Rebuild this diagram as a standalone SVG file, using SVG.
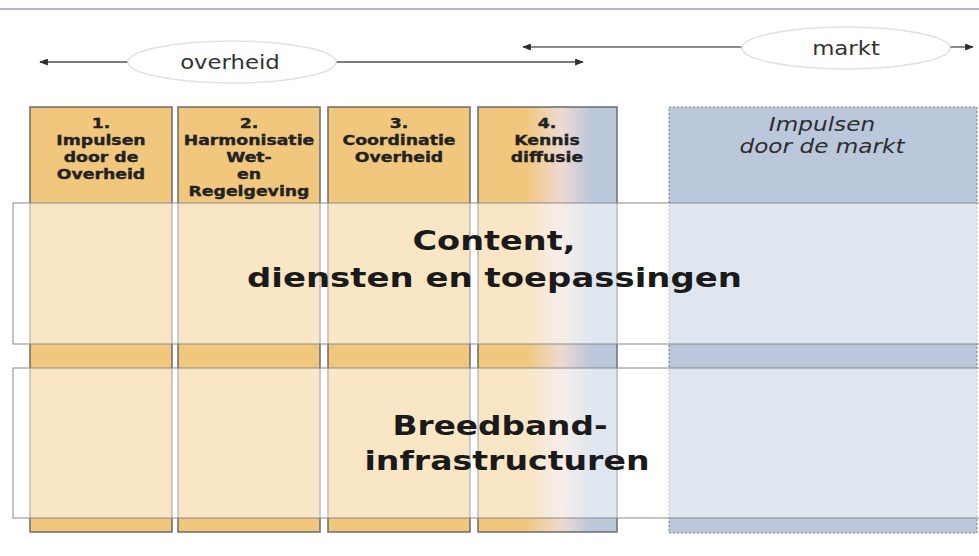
<svg xmlns="http://www.w3.org/2000/svg" width="979" height="556" viewBox="0 0 979 556">
<style>
.col{stroke:#6b6b6b;stroke-width:1.5}
.orange{fill:#F1C77D}
.band{fill:#ffffff;fill-opacity:0.55;stroke:#8a8a8a;stroke-width:1}
.hdr{font-family:"DejaVu Sans",Verdana,sans-serif;font-weight:bold;font-size:13.5px;fill:#222;stroke:#222;stroke-width:0.35;text-anchor:middle}
.lbl{font-family:"DejaVu Sans",Verdana,sans-serif;font-size:20px;fill:#333;text-anchor:middle}
.mkt{font-family:"DejaVu Sans",Verdana,sans-serif;font-style:italic;font-size:19px;fill:#2e2e2e;text-anchor:middle}
.big{font-family:"DejaVu Sans",Verdana,sans-serif;font-weight:bold;font-size:27px;fill:#1a1a1a;text-anchor:middle}
.ell{fill:#ffffff;stroke:#e2e2e2;stroke-width:1.5}
</style>
<defs>
<linearGradient id="g4" x1="0" y1="0" x2="1" y2="0">
<stop offset="0" stop-color="#F1C77D"/>
<stop offset="0.35" stop-color="#F1C77D"/>
<stop offset="0.6" stop-color="#EED9D3"/>
<stop offset="0.82" stop-color="#BBC7DB"/>
<stop offset="1" stop-color="#BBC7DB"/>
</linearGradient>
<marker id="ah" viewBox="0 0 10 8" refX="9" refY="4" markerWidth="9" markerHeight="7" markerUnits="userSpaceOnUse" orient="auto-start-reverse">
<path d="M0,0 L10,4 L0,8 Z" fill="#2e2e2e"/>
</marker>
</defs>
<rect x="0" y="0" width="979" height="556" fill="#ffffff"/>
<line x1="0" y1="9" x2="979" y2="9" stroke="#8FA0BC" stroke-width="1.5"/>

<g id="connectors">
<line x1="40" y1="62" x2="583" y2="62" stroke="#505050" stroke-width="1.3" marker-start="url(#ah)" marker-end="url(#ah)"/>
<line x1="523" y1="47" x2="973" y2="47" stroke="#8c8c8c" stroke-width="2" marker-start="url(#ah)" marker-end="url(#ah)"/>
</g>

<g id="overheid">
<ellipse class="ell" cx="232" cy="62" rx="104" ry="21"/>
<g transform="translate(230,0) scale(1.14,1)"><text class="lbl" x="0" y="69">overheid</text></g>
</g>
<g id="markt">
<ellipse class="ell" cx="846" cy="48" rx="104" ry="21"/>
<g transform="translate(846,0) scale(1.14,1)"><text class="lbl" x="0" y="55">markt</text></g>
</g>

<g id="col1">
<rect class="col orange" x="30" y="107" width="142" height="425"/>
</g>
<g id="col2">
<rect class="col orange" x="178" y="107" width="142" height="425"/>
</g>
<g id="col3">
<rect class="col orange" x="328" y="107" width="142" height="425"/>
</g>
<g id="col4">
<rect class="col" x="478" y="107" width="139" height="425" fill="url(#g4)"/>
</g>
<g id="market">
<rect x="669" y="107" width="308" height="426" fill="#BBC7DB" stroke="#7a7a7a" stroke-width="1" stroke-dasharray="2 2"/>
</g>

<g id="band-content">
<rect class="band" x="13" y="203" width="990" height="141"/>
</g>
<g id="band-infra">
<rect class="band" x="13" y="368" width="990" height="150"/>
</g>

<g id="col1-label" transform="translate(101,0) scale(1.28,1)">
<text class="hdr" x="0" y="128">1.</text>
<text class="hdr" x="0" y="145">Impulsen</text>
<text class="hdr" x="0" y="162">door de</text>
<text class="hdr" x="0" y="179">Overheid</text>
</g>
<g id="col2-label" transform="translate(249,0) scale(1.28,1)">
<text class="hdr" x="0" y="128">2.</text>
<text class="hdr" x="0" y="145">Harmonisatie</text>
<text class="hdr" x="0" y="162">Wet-</text>
<text class="hdr" x="0" y="179">en</text>
<text class="hdr" x="0" y="196">Regelgeving</text>
</g>
<g id="col3-label" transform="translate(399,0) scale(1.28,1)">
<text class="hdr" x="0" y="128">3.</text>
<text class="hdr" x="0" y="145">Coordinatie</text>
<text class="hdr" x="0" y="162">Overheid</text>
</g>
<g id="col4-label" transform="translate(547,0) scale(1.28,1)">
<text class="hdr" x="0" y="128">4.</text>
<text class="hdr" x="0" y="145">Kennis</text>
<text class="hdr" x="0" y="162">diffusie</text>
</g>
<g id="market-label" transform="translate(822,0) scale(1.22,1)">
<text class="mkt" x="0" y="131">Impulsen</text>
<text class="mkt" x="0" y="153">door de markt</text>
</g>

<g id="content-label">
<text class="big" x="494" y="250" textLength="163" lengthAdjust="spacingAndGlyphs">Content,</text>
<text class="big" x="494.5" y="287" textLength="495" lengthAdjust="spacingAndGlyphs">diensten en toepassingen</text>
</g>
<g id="infra-label">
<text class="big" x="500" y="435" textLength="215" lengthAdjust="spacingAndGlyphs">Breedband-</text>
<text class="big" x="507" y="470" textLength="285" lengthAdjust="spacingAndGlyphs">infrastructuren</text>
</g>
</svg>
